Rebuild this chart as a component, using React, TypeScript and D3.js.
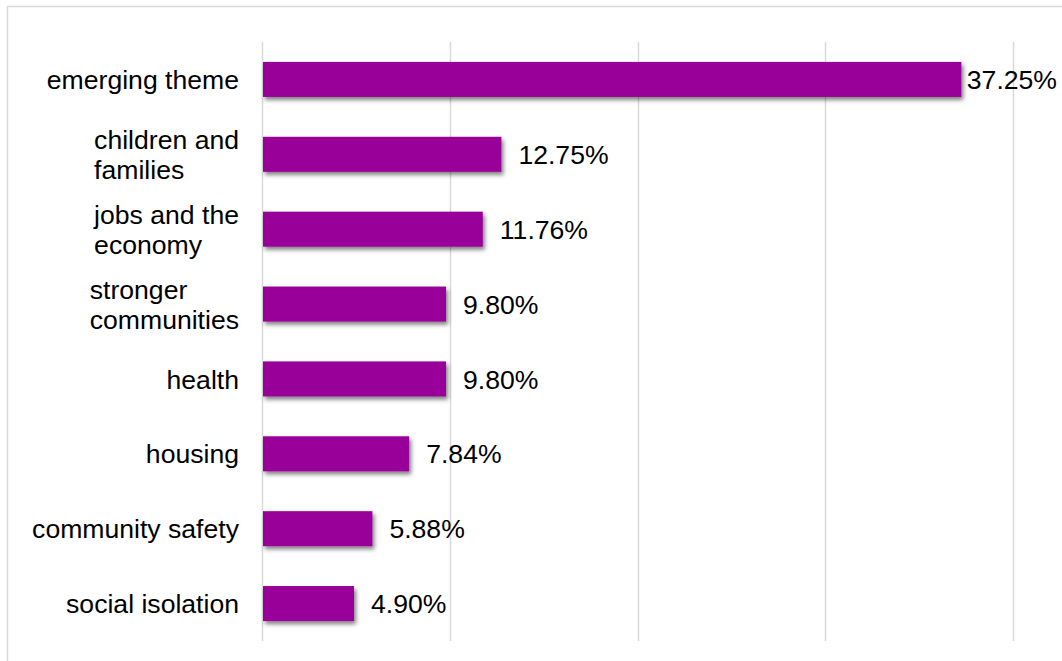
import React, { useMemo } from "react";
import * as d3 from "d3";

const categories: string[][] = [
  ["emerging theme"],
  ["children and", "families"],
  ["jobs and the", "economy"],
  ["stronger", "communities"],
  ["health"],
  ["housing"],
  ["community safety"],
  ["social isolation"],
];
const values: number[] = [37.25, 12.75, 11.76, 9.8, 9.8, 7.84, 5.88, 4.9];
const xTicks: number[] = [0, 10, 20, 30, 40];

const W = 1062;
const H = 661;
const FONT = "Liberation Sans, Arial, sans-serif";
const FS = 26.6;

function measure(t: string): number {
  const c = document.createElement("canvas").getContext("2d");
  if (!c) return t.length * FS * 0.5;
  c.font = `${FS}px ${FONT}`;
  return c.measureText(t).width;
}

export default function App() {
  const x = d3.scaleLinear().domain([0, 40]).range([262, 1013]);
  const y = d3
    .scaleBand<number>()
    .domain(values.map((_, i) => i))
    .range([42, 641])
    .paddingInner(0.532)
    .paddingOuter(0.266);
  const bw = y.bandwidth();
  const widths = useMemo(() => categories.map((ls) => Math.max(...ls.map(measure))), []);
  const labelRight = 239;
  const lh = 30;

  return (
    <svg width={W} height={H} style={{ position: "absolute", left: 0, top: 0 }} fontFamily={FONT}>
      <defs>
        <filter id="sh" x="-10%" y="-30%" width="130%" height="180%">
          <feDropShadow dx="2" dy="3" stdDeviation="2.2" floodColor="#000" floodOpacity="0.5" />
        </filter>
      </defs>
      <rect x={0} y={0} width={W} height={H} fill="#fff" />
      <rect x={7.5} y={6.5} width={W + 10} height={H + 10} fill="none" stroke="#d9d9d9" strokeWidth={1.5} />
      {xTicks.map((t) => (
        <line key={t} x1={Math.round(x(t)) + 0.5} x2={Math.round(x(t)) + 0.5} y1={42} y2={641} stroke="#d9d9d9" strokeWidth={1.5} />
      ))}
      {values.map((v, i) => {
        const yc = (y(i) as number) + bw / 2;
        const xe = x(v);
        const lx = Math.min(xe + 17, W - 5 - measure(v.toFixed(2) + "%"));
        return (
          <g key={i}>
            <rect x={x(0) + 1} y={y(i)} width={xe - x(0) - 1} height={bw} fill="#990099" filter="url(#sh)" />
            <text x={lx} y={yc} dy="0.36em" fontSize={FS} fill="#000">
              {v.toFixed(2)}%
            </text>
          </g>
        );
      })}
      {categories.map((ls, i) => {
        const yc = (y(i) as number) + bw / 2;
        const left = labelRight - widths[i];
        const y0 = yc - ((ls.length - 1) * lh) / 2;
        return (
          <text key={i} fontSize={FS} fill="#000">
            {ls.map((l, j) => (
              <tspan key={j} x={left} y={y0 + j * lh} dy="0.36em">
                {l}
              </tspan>
            ))}
          </text>
        );
      })}
    </svg>
  );
}
